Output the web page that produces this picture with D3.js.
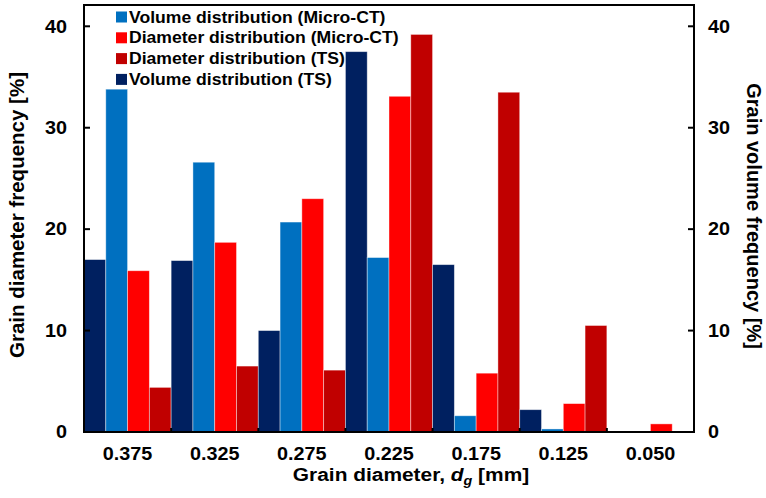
<!DOCTYPE html>
<html lang="en">
<head>
  <meta charset="UTF-8">
  <title>Grain size distribution</title>
  <script src="https://d3js.org/d3.v7.min.js"></script>
  <style>
    body { margin: 0; background: #fff; font-family: Arial, "Liberation Sans", sans-serif; }
    svg text { font-weight: bold; fill: #000; }
  </style>
</head>
<body>
  <div id="chart"></div>
  <script>
    // data
    const diameters = ["0.375", "0.325", "0.275", "0.225", "0.175", "0.125", "0.050"];
    const volumeTS = [17.0, 16.9, 10.0, 37.5, 16.5, 2.2, 0];
    const volumeCT = [33.8, 26.6, 20.7, 17.2, 1.6, 0.3, 0];
    const diameterCT = [15.9, 18.7, 23.0, 33.1, 5.8, 2.8, 0.8];
    const diameterTS = [4.4, 6.5, 6.1, 39.2, 33.5, 10.5, 0];
    const yTicks = [0, 10, 20, 30, 40];

    const series = [
      { key: "volTS", name: "Volume distribution (TS)", color: "#002060", values: volumeTS },
      { key: "volCT", name: "Volume distribution (Micro-CT)", color: "#0070C0", values: volumeCT },
      { key: "diaCT", name: "Diameter distribution (Micro-CT)", color: "#FF0000", values: diameterCT },
      { key: "diaTS", name: "Diameter distribution (TS)", color: "#C00000", values: diameterTS }
    ];
    const legendOrder = ["volCT", "diaCT", "diaTS", "volTS"];

    const W = 766, H = 498;
    const plot = { left: 84, right: 694, top: 5, bottom: 432 };
    const stretch = 1.1; // the original figure's lettering is a bit wide

    const svg = d3.select("#chart").append("svg")
      .attr("width", W).attr("height", H);

    const x = d3.scaleBand().domain(diameters).range([plot.left, plot.right]).padding(0);
    const xInner = d3.scaleBand().domain(series.map(s => s.key)).range([0, x.bandwidth()]).padding(0);
    const y = d3.scaleLinear().domain([0, 42.1]).range([plot.bottom, plot.top]);

    // bars
    const groups = svg.append("g").selectAll("g")
      .data(diameters)
      .enter().append("g")
      .attr("transform", d => `translate(${x(d)},0)`);

    groups.selectAll("rect")
      .data((d, i) => series.map(s => ({ key: s.key, color: s.color, v: s.values[i] })))
      .enter().append("rect")
      .attr("x", d => xInner(d.key))
      .attr("width", xInner.bandwidth())
      .attr("y", d => y(d.v))
      .attr("height", d => y(0) - y(d.v))
      .attr("fill", d => d.color)
      .attr("stroke", "#ffffff")
      .attr("stroke-opacity", 0.5)
      .attr("stroke-width", 0.8);

    // frame
    svg.append("rect")
      .attr("x", plot.left).attr("y", plot.top)
      .attr("width", plot.right - plot.left)
      .attr("height", plot.bottom - plot.top)
      .attr("fill", "none").attr("stroke", "#000").attr("stroke-width", 2);

    // left axis (ticks inside)
    const yLeft = svg.append("g").attr("transform", `translate(${plot.left},0)`);
    yLeft.selectAll("line").data(yTicks).enter().append("line")
      .attr("x1", 0).attr("x2", 6)
      .attr("y1", d => y(d)).attr("y2", d => y(d))
      .attr("stroke", "#000").attr("stroke-width", 2);
    yLeft.selectAll("text").data(yTicks).enter().append("text")
      .attr("transform", d => `translate(-17,${y(d)}) scale(${stretch},1)`)
      .attr("dy", "0.35em")
      .attr("text-anchor", "end").attr("font-size", 18)
      .text(d => d);

    // right axis (ticks inside)
    const yRight = svg.append("g").attr("transform", `translate(${plot.right},0)`);
    yRight.selectAll("line").data(yTicks).enter().append("line")
      .attr("x1", 0).attr("x2", -6)
      .attr("y1", d => y(d)).attr("y2", d => y(d))
      .attr("stroke", "#000").attr("stroke-width", 2);
    yRight.selectAll("text").data(yTicks).enter().append("text")
      .attr("transform", d => `translate(14,${y(d)}) scale(${stretch},1)`)
      .attr("dy", "0.35em")
      .attr("text-anchor", "start").attr("font-size", 18)
      .text(d => d);

    // bottom axis: ticks at group boundaries, labels at group centres
    const bounds = diameters.slice(1).map(d => x(d));
    svg.append("g").selectAll("line").data(bounds).enter().append("line")
      .attr("x1", d => d).attr("x2", d => d)
      .attr("y1", plot.bottom).attr("y2", plot.bottom - 4)
      .attr("stroke", "#000").attr("stroke-width", 2);
    svg.append("g").selectAll("text").data(diameters).enter().append("text")
      .attr("transform", d => `translate(${x(d) + x.bandwidth() / 2},454) scale(${stretch},1)`)
      .attr("dy", "0.35em")
      .attr("text-anchor", "middle").attr("font-size", 18)
      .text(d => d);

    // axis titles
    const xt = svg.append("text")
      .attr("transform", `translate(411,481) scale(${stretch},1)`)
      .attr("text-anchor", "middle").attr("font-size", 19);
    xt.append("tspan").text("Grain diameter, ");
    xt.append("tspan").attr("font-style", "italic").text("d");
    xt.append("tspan").attr("font-style", "italic").attr("font-size", 13).attr("dy", 4).text("g");
    xt.append("tspan").attr("dy", -4).text(" [mm]");

    svg.append("text")
      .attr("transform", "translate(24,215) rotate(-90)")
      .attr("text-anchor", "middle").attr("font-size", 20.5)
      .text("Grain diameter frequency [%]");

    svg.append("text")
      .attr("transform", "translate(747,216) rotate(90)")
      .attr("text-anchor", "middle").attr("font-size", 20)
      .text("Grain volume frequency [%]");

    // legend
    const legend = svg.append("g").selectAll("g")
      .data(legendOrder.map(k => series.find(s => s.key === k)))
      .enter().append("g")
      .attr("transform", (d, i) => `translate(116,${17 + i * 20.8})`);
    legend.append("rect")
      .attr("x", 0).attr("y", -5.5).attr("width", 11).attr("height", 11)
      .attr("fill", d => d.color);
    legend.append("text")
      .attr("transform", `translate(13,0) scale(${stretch},1)`)
      .attr("dy", "0.35em").attr("font-size", 16)
      .text(d => d.name);
  </script>
</body>
</html>
